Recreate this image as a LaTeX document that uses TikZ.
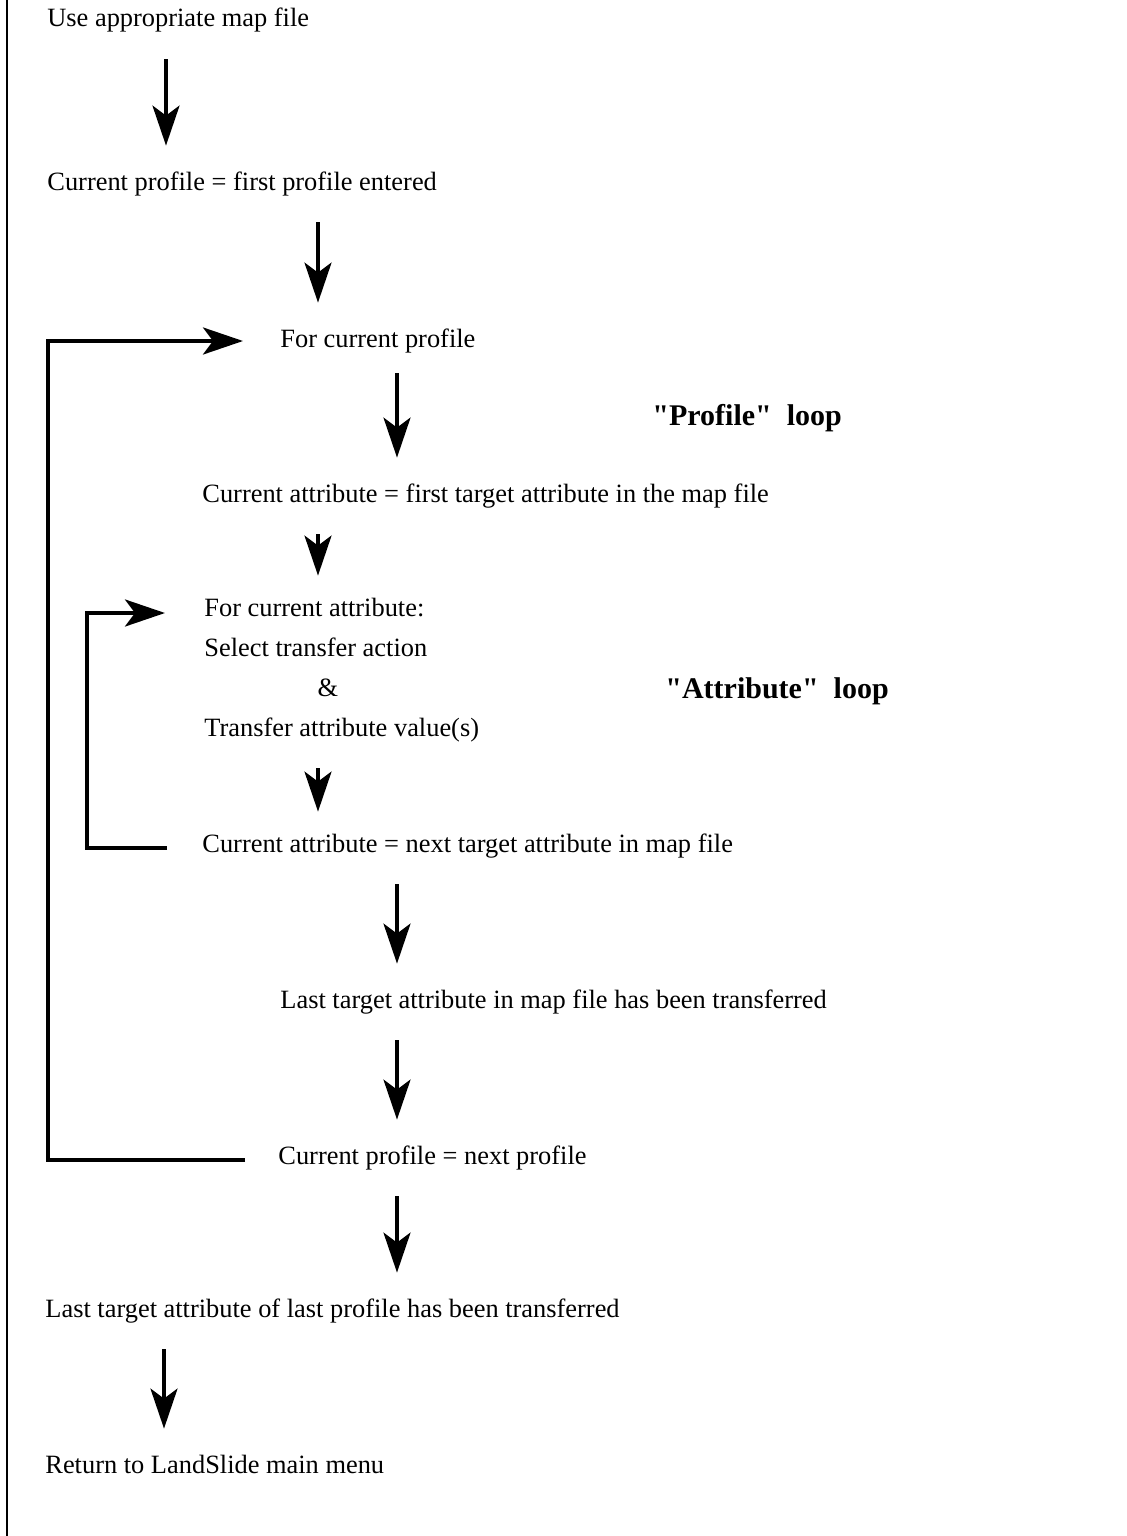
\documentclass[tikz,border=0pt]{standalone}
\usepackage{fontspec}
\setmainfont{Liberation Serif}
\newfontfamily\loopfont{Liberation Serif}
\usetikzlibrary{arrows.meta}

\begin{document}
\begin{tikzpicture}[x=0.5pt,y=-0.5pt,
  txt/.style={anchor=base west,inner sep=0pt,text height=9pt,text depth=3pt,font=\fontsize{13.2}{15}\selectfont},
  lbl/.style={anchor=base west,inner sep=0pt,font=\loopfont\fontsize{15}{18}\selectfont\bfseries},
  head/.style={-{Stealth[length=20pt,width=13.5pt,inset=5pt]}},
  flow/.style={head,line width=1.7pt,shorten <=13pt,shorten >=13pt},
  loopline/.style={line width=2pt}]
\useasboundingbox (0,0) rectangle (1127,1536);
\draw [line width=1.4pt] (7,0) -- (7,1536);
% steps
\node[txt] (usemap) at (47,27) {Use appropriate map file};
\node[txt] (curprof) at (47,190) {Current profile = first profile entered};
\node[txt] (forprof) at (280,347) {For current profile};
\node[txt] (firstattr) at (202,502) {Current attribute = first target attribute in the map file};
\node[txt] (forattr) at (204,616) {For current attribute:};
\node[txt] (select) at (204,656) {Select transfer action};
\node[txt,anchor=base] (amp) at (328,696) {\&};
\node[txt] (transfer) at (204,736) {Transfer attribute value(s)};
\node[txt] (nextattr) at (202,852) {Current attribute = next target attribute in map file};
\node[txt] (lastattr) at (280,1008) {Last target attribute in map file has been transferred};
\node[txt] (nextprof) at (278,1164) {Current profile = next profile};
\node[txt] (lastprof) at (45,1317) {Last target attribute of last profile has been transferred};
\node[txt] (menu) at (45,1473) {Return to LandSlide main menu};
% loop names
\node[lbl] (profloop) at (652,425) {"Profile"\ \ loop};
\node[lbl] (attrloop) at (665,698) {"Attribute"\ \ loop};
% arrow columns
\coordinate (colA) at (166,0);
\coordinate (colB) at (318,0);
\coordinate (colC) at (397,0);
\coordinate (colD) at (164,0);
\coordinate (outer) at (48,0);
\coordinate (inner) at (87,0);
\draw[flow] (usemap.south -| colA) -- (curprof.north -| colA);
\draw[flow] (curprof.south -| colB) -- (forprof.north -| colB);
\draw[flow,shorten <=10pt] (forprof.south -| colC) -- (firstattr.north -| colC);
\draw[flow,shorten >=11pt] (firstattr.south -| colB) -- (forattr.north -| colB);
\draw[flow,shorten >=11pt] (transfer.south -| colB) -- (nextattr.north -| colB);
\draw[flow] (nextattr.south -| colC) -- (lastattr.north -| colC);
\draw[flow] (lastattr.south -| colC) -- (nextprof.north -| colC);
\draw[flow] (nextprof.south -| colC) -- (lastprof.north -| colC);
\draw[flow] (lastprof.south -| colD) -- (menu.north -| colD);
% loops
\draw[loopline,head,shorten >=18.5pt] ([xshift=-16.5pt,yshift=-1pt]nextprof.west) -- ([yshift=-1pt]nextprof.west -| outer) |- (forprof.west);
\draw[loopline,head,shorten >=19.5pt] ([xshift=-17.5pt,yshift=-1pt]nextattr.west) -- ([yshift=-1pt]nextattr.west -| inner) |- ([yshift=-1.5pt]forattr.west);
\end{tikzpicture}
\end{document}
